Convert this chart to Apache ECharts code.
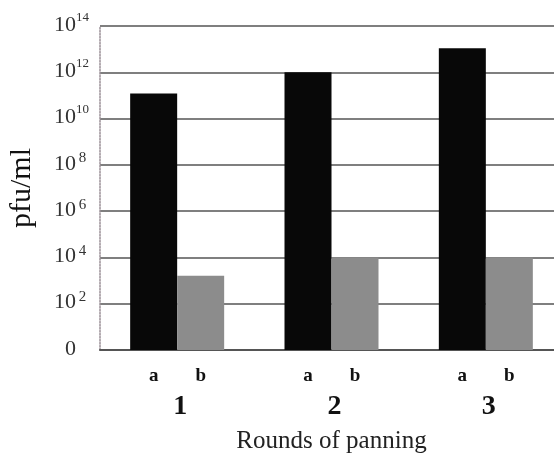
<!DOCTYPE html>
<html><head><meta charset="utf-8">
<script src="https://cdn.jsdelivr.net/npm/echarts@6/dist/echarts.min.js"></script>
<style>html,body{margin:0;padding:0;background:#fff}#c{width:554px;height:454px}</style>
</head><body><div id="c"></div>
<script>
const rounds = ['1', '2', '3'];
const barLabels = ['a', 'b'];
const seriesA = [1.2e11, 1e12, 1.1e13];
const seriesB = [1.6e3, 1e4, 1e4];
const yMin = 1, yMax = 1e14;

const chart = echarts.init(document.getElementById('c'), null, {renderer: 'canvas'});
chart.setOption({
  animation: false,
  backgroundColor: '#ffffff',
  grid: {left: 100, top: 26, width: 463, height: 324, containLabel: false, outerBoundsMode: 'none'},
  xAxis: {
    type: 'category',
    data: rounds,
    axisTick: {show: false},
    axisLine: {lineStyle: {color: '#555', width: 2}},
    axisLabel: {
      margin: 14,
      interval: 0,
      formatter: v => '{a|' + barLabels[0] + '}{b|' + barLabels[1] + '}\n{n|' + v + '}',
      rich: {
        a: {width: 47, align: 'center', fontFamily: 'Liberation Serif', fontWeight: 'bold', fontSize: 19, lineHeight: 25, color: '#111'},
        b: {width: 47, align: 'center', fontFamily: 'Liberation Serif', fontWeight: 'bold', fontSize: 19, lineHeight: 25, color: '#111'},
        n: {fontFamily: 'Liberation Serif', fontWeight: 'bold', fontSize: 28, lineHeight: 36, color: '#111', padding: [0, 0, 0, 6]}
      }
    },
    name: 'Rounds of panning',
    nameLocation: 'middle',
    nameGap: 79,
    nameTextStyle: {fontFamily: 'Liberation Serif', fontSize: 25, color: '#222'}
  },
  yAxis: {
    type: 'log',
    logBase: 10,
    min: yMin,
    max: yMax,
    interval: 2,
    axisTick: {show: false},
    axisLine: {show: true, lineStyle: {color: '#9a8f96', width: 1.5, type: 'dotted'}},
    splitLine: {lineStyle: {color: '#555', width: 1.5}},
    axisLabel: {
      margin: 11,
      padding: [0, 0, 8, 0],
      formatter: v => {
        const e = Math.round(Math.log10(v));
        if (e === 0) return '{b|0}{s1|}';
        const s = String(e);
        return '{b|10}{' + (s.length > 1 ? 's2' : 's1') + '|' + s + '}';
      },
      rich: {
        b: {fontFamily: 'Liberation Serif', fontSize: 22, lineHeight: 22, padding: [6, 0, 0, 0], color: '#333'},
        s1: {fontFamily: 'Liberation Serif', fontSize: 15, lineHeight: 15, padding: [1, 0, 0, 0], verticalAlign: 'top', width: 13, align: 'left', color: '#333'},
        s2: {fontFamily: 'Liberation Serif', fontSize: 13, lineHeight: 13, verticalAlign: 'top', width: 13, align: 'left', color: '#333'}
      }
    },
    name: 'pfu/ml',
    nameLocation: 'middle',
    nameGap: 63,
    nameRotate: 90,
    nameTextStyle: {fontFamily: 'Liberation Serif', fontSize: 30, color: '#111'}
  },
  series: [
    {name: 'a', type: 'bar', data: seriesA, barWidth: 47, barGap: '0%', itemStyle: {color: '#080808'}},
    {name: 'b', type: 'bar', data: seriesB, barWidth: 47, barGap: '0%', itemStyle: {color: '#8c8c8c'}}
  ]
});
</script></body></html>
